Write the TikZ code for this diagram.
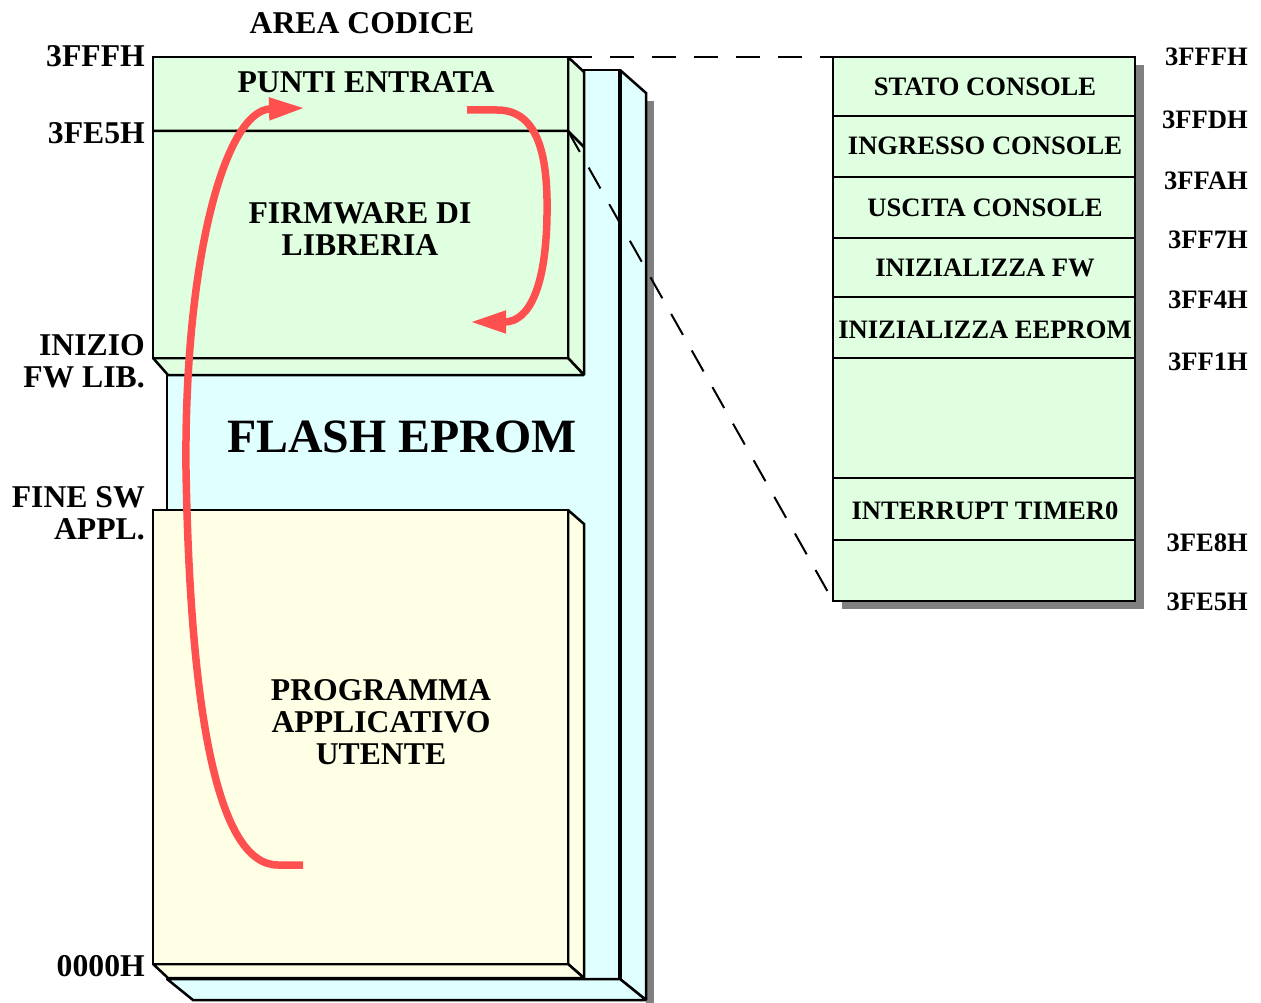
\documentclass[tikz,border=0pt]{standalone}
\usepackage{fontspec}
\setmainfont{Liberation Serif}
\usetikzlibrary{arrows.meta}
\definecolor{gfill}{RGB}{224,255,224}
\definecolor{cfill}{RGB}{224,255,255}
\definecolor{yfill}{RGB}{255,255,230}
\definecolor{redarr}{RGB}{255,80,80}
\definecolor{shad}{RGB}{128,128,128}
\begin{document}
\begin{tikzpicture}[x=1pt,y=-1pt,
  box/.style={draw=black,line width=2.5pt,line join=miter,miter limit=2},
  txt/.style={font=\fontsize{31.7}{32}\selectfont\bfseries,inner sep=0pt,align=center},
  rtxt/.style={font=\fontsize{26.6}{27}\selectfont\bfseries,inner sep=0pt},
  bigtxt/.style={font=\fontsize{47.8}{48}\selectfont\bfseries,inner sep=0pt},
  redarrow/.style={draw=redarr,line width=7.5pt,-{Triangle[length=36pt,width=21pt]}},
  dashline/.style={draw=black,line width=2pt,dash pattern=on 24pt off 18pt}]
\useasboundingbox (0,0) rectangle (1261,1003);

% ---- FLASH EPROM block (cyan) ----
\fill[shad] (646,101) -- (654,101) -- (654,1003) -- (646,1003) -- cycle;
\draw[box,fill=cfill] (167,70) rectangle (620,979);
\draw[box,fill=cfill] (620,70) -- (646,93) -- (646,1000) -- (620,979) -- cycle;
\draw[box,fill=cfill] (167,979) -- (620,979) -- (646,1000) -- (193,1000) -- cycle;
\draw[line width=4pt] (620,70) -- (620,979);

% ---- Firmware block (green) ----
\draw[box,fill=gfill] (568,57) -- (584,72) -- (584,375) -- (568,358) -- cycle;
\draw[box,fill=gfill] (153,358) -- (568,358) -- (584,375) -- (168,375) -- cycle;
\draw[box,fill=gfill] (153,57) rectangle (568,358);
\coordinate (gtr) at (568,57);
\coordinate (gdiv) at (568,131);
\draw[box] (153,131) -- (gdiv) -- (584,147);

% ---- Application block (yellow) ----
\draw[box,fill=yfill] (568,510) -- (584,524) -- (584,978) -- (568,964) -- cycle;
\draw[box,fill=yfill] (153,964) -- (568,964) -- (584,978) -- (168,978) -- cycle;
\draw[box,fill=yfill] (153,510) rectangle (568,964);

% ---- Right panel ----
\fill[shad] (842,65) rectangle (1144,609);
\draw[box,fill=gfill] (833,57) rectangle (1135,601);
\coordinate (ptl) at (833,57);
\coordinate (pbl) at (833,601);
\foreach \yy in {116,177,238,297,358,478,540}
  \draw[box] (833,\yy) -- (1135,\yy);

% ---- dashed connectors ----
\draw[dashline] (gtr) -- (ptl);
\draw[dashline] (gdiv) -- (pbl);

% ---- texts ----
\node[txt] (areacod) at (362,23) {AREA CODICE};
\node[txt] (punti) at (366,82) {PUNTI ENTRATA};
\node[txt] (firm) at (360,229) {FIRMWARE DI\\LIBRERIA};
\node[bigtxt] (flash) at (402,437) {FLASH EPROM};
\node[txt] (prog) at (381,722) {PROGRAMMA\\APPLICATIVO\\UTENTE};

\node[txt,anchor=east] (l1) at (145,56) {3FFFH};
\node[txt,anchor=east] (l2) at (145,133) {3FE5H};
\node[txt,anchor=east,align=right] (l3) at (145,361) {INIZIO\\FW LIB.};
\node[txt,anchor=east,align=right] (l4) at (145,513) {FINE SW\\APPL.};
\node[txt,anchor=east] (l5) at (145,966) {0000H};

\node[rtxt] (r1) at (985,87) {STATO CONSOLE};
\node[rtxt] (r2) at (985,146) {INGRESSO CONSOLE};
\node[rtxt] (r3) at (985,208) {USCITA CONSOLE};
\node[rtxt] (r4) at (985,268) {INIZIALIZZA FW};
\node[rtxt] (r5) at (985,330) {INIZIALIZZA EEPROM};
\node[rtxt] (r6) at (985,511) {INTERRUPT TIMER0};

\node[rtxt,anchor=east] (a1) at (1248,57) {3FFFH};
\node[rtxt,anchor=east] (a2) at (1248,120) {3FFDH};
\node[rtxt,anchor=east] (a3) at (1248,181) {3FFAH};
\node[rtxt,anchor=east] (a4) at (1248,240) {3FF7H};
\node[rtxt,anchor=east] (a5) at (1248,300) {3FF4H};
\node[rtxt,anchor=east] (a6) at (1248,362) {3FF1H};
\node[rtxt,anchor=east] (a7) at (1248,543) {3FE8H};
\node[rtxt,anchor=east] (a8) at (1248,602) {3FE5H};

% ---- red arrows ----
\coordinate (s1) at (303,865);
\coordinate (e1) at (305,108);
\coordinate (s2) at (467,110);
\coordinate (e2) at (470,322);
\draw[redarrow] (s1) -- (278,865) .. controls (215,865) and (190,700) .. (186,470)
   .. controls (184,260) and (225,110) .. (e1);
\draw[redarrow] (s2) -- (497,110) .. controls (540,110) and (548,160) .. (547,215)
   .. controls (546,285) and (530,322) .. (e2);
\end{tikzpicture}
\end{document}
